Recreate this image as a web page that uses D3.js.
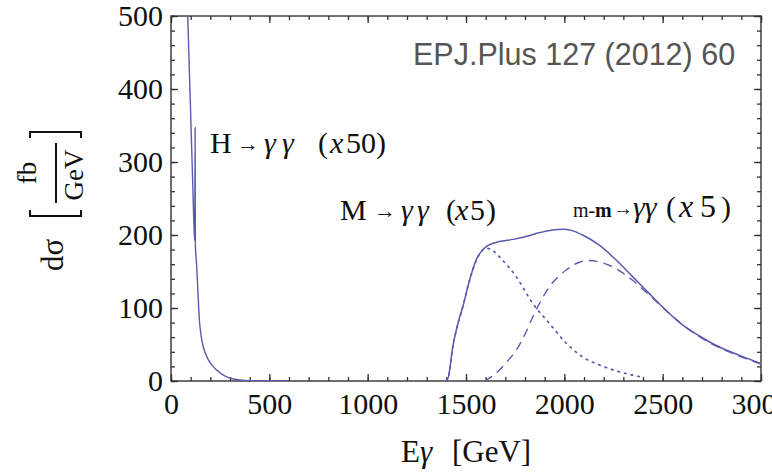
<!DOCTYPE html>
<html><head><meta charset="utf-8">
<script src="https://cdn.jsdelivr.net/npm/d3@7"></script>
<style>body{margin:0;background:#fff}svg{display:block}</style>
</head><body>
<svg id="c" width="772" height="476"></svg>
<script>
// ---- data ----
const bgE = [80, 85, 94, 102, 110, 118, 121, 122.5, 124, 130, 137, 144, 152, 162, 175, 190, 210, 232, 260, 300, 350, 400, 500, 600];
const bgV = [560, 500, 420, 348, 275, 205, 192, 347, 186, 160, 122, 85, 64, 49, 38, 29, 21, 15, 9, 4, 1.5, 0.5, 0, 0];

const totE = [1400, 1410, 1433, 1460, 1484, 1518, 1552, 1602, 1670, 1740, 1806, 1870, 1941, 1992, 2040, 2093, 2178, 2262, 2347, 2431, 2516, 2601, 2685, 2770, 2854, 2930, 3000];
const totV = [0, 5, 47, 80, 102, 138, 166, 184, 191, 194, 198, 203, 207, 208, 206, 200, 186, 166, 143, 120, 97, 77, 62, 49, 39, 31, 24];

const mE = [1400, 1410, 1433, 1484, 1518, 1552, 1602, 1640, 1670, 1755, 1840, 1924, 2009, 2093, 2178, 2262, 2347, 2400];
const mV = [0, 5, 47, 102, 138, 165, 182, 178, 170, 143, 106, 79, 52, 33, 22, 14, 8, 5];

const mmE = [1594, 1630, 1670, 1710, 1755, 1800, 1840, 1924, 2009, 2070, 2127, 2178, 2262, 2347, 2431, 2516, 2601, 2685, 2770, 2854, 2930, 3000];
const mmV = [0, 6, 15, 27, 42, 64, 88, 129, 152, 162, 165, 163, 154, 138, 118, 97, 77, 61, 48, 38, 30, 23];

const xMajor = [0, 500, 1000, 1500, 2000, 2500, 3000];
const yMajor = [0, 100, 200, 300, 400, 500];
const xMinor = d3.range(0, 3001, 100);
const yMinor = d3.range(0, 501, 20);

// ---- layout ----
const L = 171, R = 761, T = 16, B = 381;
const serif = "'Liberation Serif','Times New Roman',serif";
const lineCol = "#5a5aae";
const frameCol = "#333";

const svg = d3.select("#c");
const x = d3.scaleLinear().domain([0, 3000]).range([L, R]);
const y = d3.scaleLinear().domain([0, 500]).range([B, T]);

svg.append("clipPath").attr("id", "clip").append("rect")
  .attr("x", L).attr("y", T).attr("width", R - L).attr("height", B - T);

function styleAxis(g, labels) {
  g.select(".domain").remove();
  g.selectAll("line").attr("stroke", frameCol).attr("stroke-width", 1.3);
  if (labels) g.selectAll("text").attr("font-family", serif).attr("font-size", 30).attr("fill", "#111");
  else g.selectAll("text").remove();
}
svg.append("g").attr("transform", `translate(0,${B})`)
  .call(d3.axisBottom(x).tickValues(xMinor).tickSize(-4).tickFormat(""))
  .call(g => styleAxis(g, false));
svg.append("g").attr("transform", `translate(0,${B})`)
  .call(d3.axisBottom(x).tickValues(xMajor).tickSize(-7).tickPadding(12).tickFormat(d3.format("d")))
  .call(g => styleAxis(g, true));
svg.append("g").attr("transform", `translate(0,${T})`)
  .call(d3.axisTop(x).tickValues(xMinor).tickSize(-4).tickFormat(""))
  .call(g => styleAxis(g, false));
svg.append("g").attr("transform", `translate(0,${T})`)
  .call(d3.axisTop(x).tickValues(xMajor).tickSize(-7).tickFormat(""))
  .call(g => styleAxis(g, false));

svg.append("g").attr("transform", `translate(${L},0)`)
  .call(d3.axisLeft(y).tickValues(yMinor).tickSize(-4).tickFormat(""))
  .call(g => styleAxis(g, false));
svg.append("g").attr("transform", `translate(${L},0)`)
  .call(d3.axisLeft(y).tickValues(yMajor).tickSize(-7).tickPadding(8).tickFormat(d3.format("d")))
  .call(g => styleAxis(g, true));
svg.append("g").attr("transform", `translate(${R},0)`)
  .call(d3.axisRight(y).tickValues(yMinor).tickSize(-4).tickFormat(""))
  .call(g => styleAxis(g, false));
svg.append("g").attr("transform", `translate(${R},0)`)
  .call(d3.axisRight(y).tickValues(yMajor).tickSize(-7).tickFormat(""))
  .call(g => styleAxis(g, false));

svg.append("rect").attr("x", L).attr("y", T).attr("width", R - L).attr("height", B - T)
  .attr("fill", "none").attr("stroke", frameCol).attr("stroke-width", 1.4);

const line = d3.line().x(d => x(d[0])).y(d => y(d[1])).curve(d3.curveMonotoneX);
const plot = svg.append("g").attr("clip-path", "url(#clip)");
function addCurve(E, V, dash, w, cap) {
  plot.append("path").datum(E.map((e, i) => [e, V[i]]))
    .attr("d", line).attr("fill", "none").attr("stroke", lineCol)
    .attr("stroke-width", w).attr("stroke-dasharray", dash)
    .attr("stroke-linecap", cap || "butt");
}
addCurve(bgE, bgV, null, 1.4);
addCurve(mE, mV, "1.6,5.2", 1.7, "round");
addCurve(mmE, mmV, "9,6", 1.4);
addCurve(totE, totV, null, 1.5);

function label(pieces, baseline) {
  const t = svg.append("text").attr("y", baseline).attr("font-family", serif).attr("fill", "#111");
  pieces.forEach(p => {
    t.append("tspan").attr("x", p.x).attr("font-size", p.s || 30)
      .attr("font-style", p.i ? "italic" : "normal")
      .attr("font-weight", p.b ? "bold" : "normal")
      .attr("dy", p.dy || 0)
      .text(p.t);
  });
}
label([
  {t: "H", x: 210}, {t: "\u2192", x: 237, s: 22, dy: -2}, {t: "\u03B3", x: 264, i: 1, dy: 2},
  {t: "\u03B3", x: 282, i: 1}, {t: "(", x: 318}, {t: "x", x: 330, i: 1}, {t: "50)", x: 346}
], 153);
label([
  {t: "M", x: 340}, {t: "\u2192", x: 374, s: 22, dy: -2}, {t: "\u03B3", x: 401, i: 1, dy: 2},
  {t: "\u03B3", x: 417, i: 1}, {t: "(", x: 446}, {t: "x", x: 455, i: 1}, {t: "5", x: 470}, {t: ")", x: 486}
], 220);
label([
  {t: "m-", x: 573, s: 20}, {t: "m", x: 595, s: 20, b: 1}, {t: "\u2192", x: 613, s: 20, dy: -2},
  {t: "\u03B3\u03B3", x: 633, i: 1, dy: 2}, {t: "(", x: 666}, {t: "x", x: 679, i: 1, s: 32}, {t: "5", x: 700, s: 32}, {t: ")", x: 721}
], 217);

svg.append("text").attr("x", 413).attr("y", 65)
  .attr("font-family", "'Liberation Sans',Arial,Helvetica,sans-serif")
  .attr("font-size", 30.5).attr("fill", "#555").text("EPJ.Plus 127 (2012) 60");

// x axis title
const xt = svg.append("text").attr("y", 462).attr("font-family", serif).attr("font-size", 31).attr("fill", "#111");
xt.append("tspan").attr("x", 401).text("E");
xt.append("tspan").attr("font-style", "italic").text("\u03B3");
xt.append("tspan").attr("x", 452).text("[GeV]");

// y axis title (rotated)
function rtext(txt, sx, sy, size) {
  svg.append("text").attr("transform", `translate(${sx},${sy}) rotate(-90)`)
    .attr("text-anchor", "middle").attr("font-family", serif).attr("font-size", size)
    .attr("fill", "#111").text(txt);
}
rtext("d\u03C3", 63, 255, 31);
rtext("fb", 36, 173, 27);
rtext("GeV", 83, 175, 27);
svg.append("line").attr("x1", 56).attr("x2", 56).attr("y1", 143).attr("y2", 203)
  .attr("stroke", "#111").attr("stroke-width", 2);
const bk = d3.path();
bk.moveTo(30, 210); bk.lineTo(30, 216); bk.lineTo(81, 216); bk.lineTo(81, 210);
bk.moveTo(30, 138); bk.lineTo(30, 132); bk.lineTo(81, 132); bk.lineTo(81, 138);
svg.append("path").attr("d", bk.toString()).attr("fill", "none").attr("stroke", "#111").attr("stroke-width", 2);
</script>
</body></html>
